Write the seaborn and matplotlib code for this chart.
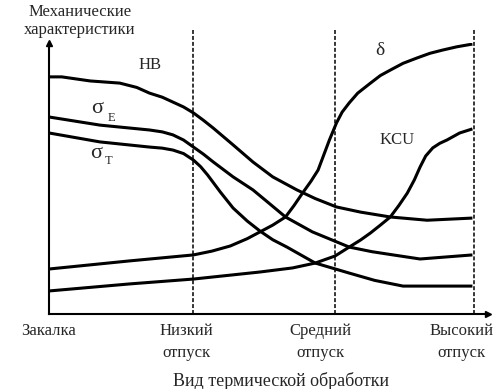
import matplotlib
matplotlib.use("Agg")
import matplotlib.pyplot as plt
import seaborn as sns
import pandas as pd

# ---- data (schematic) ----
stages = ["Закалка", "Низкий\nотпуск", "Средний\nотпуск", "Высокий\nотпуск"]
stage_pos = [0.0, 1.02, 2.02, 3.0]
stage_label_x = [0.0, 0.97, 1.92, 2.91]

hb_x = [0, 0.09, 0.29, 0.50, 0.62, 0.71, 0.80, 0.875, 0.95, 1.02, 1.09, 1.16, 1.30, 1.44, 1.58, 1.75, 1.88, 2.03, 2.20, 2.41, 2.67, 2.99]
hb_y = [87.5, 87.5, 86.0, 85.2, 83.6, 81.5, 80.0, 78.2, 76.4, 74.2, 71.5, 68.6, 62.4, 56.1, 50.6, 45.8, 42.6, 39.5, 37.6, 35.8, 34.6, 35.4]

se_x = [0, 0.36, 0.71, 0.80, 0.875, 0.95, 1.02, 1.09, 1.16, 1.30, 1.44, 1.56, 1.67, 1.86, 2.12, 2.28, 2.43, 2.62, 2.99]
se_y = [72.7, 69.7, 67.9, 67.2, 66.1, 64.2, 61.6, 59.0, 56.1, 50.6, 45.8, 40.6, 35.8, 30.3, 24.7, 23.0, 21.8, 20.3, 21.8]

st_x = [0, 0.36, 0.71, 0.80, 0.875, 0.95, 1.02, 1.07, 1.12, 1.21, 1.30, 1.40, 1.49, 1.58, 1.68, 1.88, 2.12, 2.30, 2.50, 2.99]
st_y = [66.8, 63.5, 61.6, 61.2, 60.5, 59.2, 56.8, 54.4, 51.3, 45.0, 39.1, 34.3, 30.6, 27.4, 24.7, 18.8, 15.1, 12.4, 10.3, 10.3]

d_x = [0, 0.57, 1.02, 1.15, 1.28, 1.40, 1.49, 1.58, 1.67, 1.73, 1.79, 1.85, 1.90, 1.98, 2.03, 2.07, 2.12, 2.18, 2.27, 2.34, 2.41, 2.50, 2.60, 2.69, 2.78, 2.88, 2.99]
d_y = [16.6, 19.6, 21.8, 23.2, 25.1, 27.8, 30.3, 32.8, 35.8, 40.0, 44.6, 49.0, 53.1, 64.2, 70.5, 74.5, 77.9, 81.5, 85.2, 88.0, 90.0, 92.5, 94.5, 96.2, 97.4, 98.6, 99.6]

kcu_x = [0, 0.57, 1.02, 1.49, 1.72, 1.88, 2.02, 2.12, 2.20, 2.27, 2.34, 2.41, 2.47, 2.53, 2.58, 2.62, 2.66, 2.71, 2.76, 2.81, 2.90, 2.99]
kcu_y = [8.5, 11.1, 12.9, 15.5, 17.0, 18.8, 21.4, 24.7, 27.3, 29.9, 32.8, 35.8, 40.0, 44.6, 49.5, 54.2, 58.3, 61.3, 63.0, 64.2, 66.8, 68.3]

curves = {"HB": (hb_x, hb_y), "sE": (se_x, se_y), "sT": (st_x, st_y),
          "delta": (d_x, d_y), "KCU": (kcu_x, kcu_y)}

sns.set_style("white")
plt.rcParams["font.family"] = ["Liberation Serif", "DejaVu Serif"]

fig = plt.figure(figsize=(5.02, 3.89), dpi=100)
ax = fig.add_axes([49 / 502, 75 / 389, 439 / 502, 271 / 389])

for name, (xs, ys) in curves.items():
    df = pd.DataFrame({"x": xs, "y": ys})
    sns.lineplot(data=df, x="x", y="y", ax=ax, color="black", linewidth=2.2,
                 sort=False, estimator=None, solid_joinstyle="round",
                 solid_capstyle="butt")

ax.set_xlim(0, 3.10)
ax.set_ylim(0, 100)

for xp in stage_pos[1:]:
    ax.plot([xp, xp], [0, 105], color="black", linewidth=1.1,
            linestyle=(0, (2.6, 1.3)), clip_on=False)

for s in ["top", "right"]:
    ax.spines[s].set_visible(False)
for s in ["left", "bottom"]:
    ax.spines[s].set_linewidth(1.5)
    ax.spines[s].set_color("black")
ax.set_xticks([])
ax.set_yticks([])
ax.set_xlabel("")
ax.set_ylabel("")

# arrows
ax.plot(1, 0, ">", color="black", markersize=5, transform=ax.transAxes, clip_on=False)
ax.plot(0, 1, "^", color="black", markersize=5, transform=ax.transAxes, clip_on=False)

fs = 12
# tick labels
for lx, lab in zip(stage_label_x, stages):
    ax.text(lx, -3.5, lab, ha="center", va="top", fontsize=fs, linespacing=1.45)

ax.text(1.64, -21.3, "Вид термической обработки", ha="center", va="top", fontsize=13)
fig.text(80 / 502, 1 - 4 / 389, "Механические\nхарактеристики", ha="center", va="top",
         fontsize=fs, linespacing=1.2)

# curve labels
ax.text(0.71, 91.9, "HB", ha="center", va="center", fontsize=fs)
ax.text(0.34, 76.0, "σ", ha="center", va="center", fontsize=16)
ax.text(0.44, 72.5, "Е", ha="center", va="center", fontsize=9)
ax.text(0.33, 59.4, "σ", ha="center", va="center", fontsize=16)
ax.text(0.42, 56.5, "Т", ha="center", va="center", fontsize=9)
ax.text(2.34, 97.4, "δ", ha="center", va="center", fontsize=14)
ax.text(2.46, 64.2, "KCU", ha="center", va="center", fontsize=fs)

fig.savefig("out.png", dpi=100)
